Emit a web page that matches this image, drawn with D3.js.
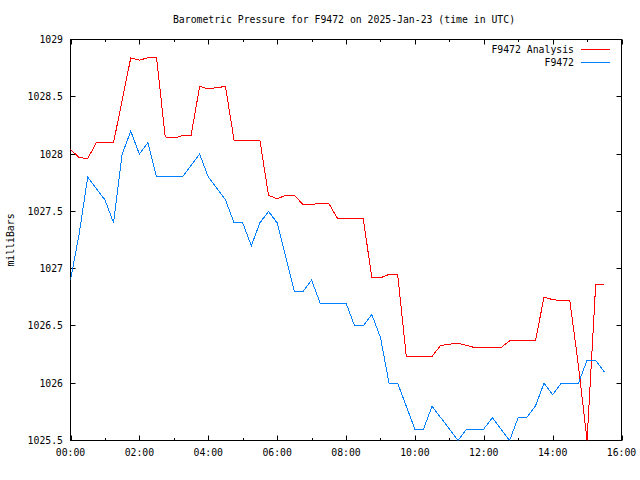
<!DOCTYPE html>
<html><head><meta charset="utf-8">
<script src="https://cdn.jsdelivr.net/npm/d3@7/dist/d3.min.js"></script>
<style>
body{margin:0;background:#fff;}
svg{display:block;}
text{font-family:"DejaVu Sans Mono","Liberation Mono",monospace;font-size:9.8px;fill:#000;}
</style></head>
<body>
<svg id="c" width="640" height="480"></svg>
<script>
const times = ["00:00","00:15","00:30","00:45","01:00","01:15","01:30","01:45","02:00","02:15","02:30","02:45",
"03:00","03:15","03:30","03:45","04:00","04:15","04:30","04:45","05:00","05:15","05:30","05:45",
"06:00","06:15","06:30","06:45","07:00","07:15","07:30","07:45","08:00","08:15","08:30","08:45",
"09:00","09:15","09:30","09:45","10:00","10:15","10:30","10:45","11:00","11:15","11:30","11:45",
"12:00","12:15","12:30","12:45","13:00","13:15","13:30","13:45","14:00","14:15","14:30","14:45",
"15:00","15:15","15:30"];
const analysis = [1028.04,1027.97,1027.96,1028.10,1028.10,1028.10,1028.47,1028.84,1028.82,1028.84,1028.84,1028.15,
1028.14,1028.16,1028.16,1028.59,1028.57,1028.58,1028.59,1028.12,1028.12,1028.12,1028.12,1027.64,
1027.61,1027.64,1027.64,1027.56,1027.56,1027.57,1027.57,1027.44,1027.44,1027.44,1027.44,1026.92,
1026.92,1026.95,1026.95,1026.235,1026.235,1026.235,1026.235,1026.33,1026.34,1026.35,1026.33,1026.31,
1026.31,1026.31,1026.31,1026.37,1026.37,1026.37,1026.37,1026.75,1026.73,1026.72,1026.72,1026.15,
1025.5,1026.86,1026.86];
const observed = [1026.9,1027.3,1027.8,1027.7,1027.6,1027.4,1028.0,1028.2,1028.0,1028.1,1027.8,1027.8,
1027.8,1027.8,1027.9,1028.0,1027.8,1027.7,1027.6,1027.4,1027.4,1027.2,1027.4,1027.5,
1027.4,1027.1,1026.8,1026.8,1026.9,1026.7,1026.7,1026.7,1026.7,1026.5,1026.5,1026.6,
1026.4,1026.0,1026.0,1025.8,1025.6,1025.6,1025.8,1025.7,1025.6,1025.5,1025.6,1025.6,
1025.6,1025.7,1025.6,1025.5,1025.7,1025.7,1025.8,1026.0,1025.9,1026.0,1026.0,1026.0,
1026.2,1026.2,1026.1];
const xTickLabels = ["00:00","02:00","04:00","06:00","08:00","10:00","12:00","14:00","16:00"];
const yTickValues = [1025.5,1026,1026.5,1027,1027.5,1028,1028.5,1029];
const seriesNames = ["F9472 Analysis","F9472"];
const seriesColors = ["#ff0000","#0080ff"];
const titleText = "Barometric Pressure for F9472 on 2025-Jan-23 (time in UTC)";
const yLabel = "milliBars";

const toH = s => { const [h,m] = s.split(":").map(Number); return h + m/60; };
const L = 70.5, R = 621.5, T = 39.5, B = 440.5;
const svg = d3.select("#c");
const x = d3.scaleLinear().domain([0,16]).range([L,R]);
const y = d3.scaleLinear().domain([1025.5,1029]).range([B,T]);

svg.append("defs").append("clipPath").attr("id","clip")
  .append("rect").attr("x",L).attr("y",T).attr("width",R-L).attr("height",B-T);

// ticks
const majorX = xTickLabels.map(toH);
const minorX = d3.range(1,16,2);
const tk = svg.append("g").attr("stroke","#000").attr("stroke-width",1);
majorX.forEach(h=>{
  const px = Math.round(x(h))+0.5;
  tk.append("line").attr("x1",px).attr("x2",px).attr("y1",B).attr("y2",B-5);
  tk.append("line").attr("x1",px).attr("x2",px).attr("y1",T).attr("y2",T+5);
});
minorX.forEach(h=>{
  const px = Math.round(x(h))+0.5;
  tk.append("line").attr("x1",px).attr("x2",px).attr("y1",B).attr("y2",B-2.5);
  tk.append("line").attr("x1",px).attr("x2",px).attr("y1",T).attr("y2",T+2.5);
});
yTickValues.forEach(v=>{
  const py = Math.round(y(v)-0.5)+0.5;
  tk.append("line").attr("x1",L).attr("x2",L+5).attr("y1",py).attr("y2",py);
  tk.append("line").attr("x1",R).attr("x2",R-5).attr("y1",py).attr("y2",py);
});

// border
svg.append("rect").attr("x",L).attr("y",T).attr("width",R-L).attr("height",B-T)
  .attr("fill","none").attr("stroke","#000").attr("stroke-width",1);

// tick labels
xTickLabels.forEach(s=>{
  svg.append("text").attr("x",x(toH(s))).attr("y",456).attr("text-anchor","middle").text(s);
});
yTickValues.forEach(v=>{
  svg.append("text").attr("x",63).attr("y",y(v)+3.5).attr("text-anchor","end").text(d3.format("")(v));
});

// title & y label
svg.append("text").attr("x",344).attr("y",23).attr("text-anchor","middle").text(titleText);
svg.append("text").attr("transform","translate(14,240) rotate(-90)").attr("text-anchor","middle").text(yLabel);

// lines
const line = d3.line().x(d=>x(d[0])).y(d=>y(d[1]));
const data = [analysis, observed].map(arr => times.map((t,i)=>[toH(t), arr[i]]));
data.forEach((d,i)=>{
  svg.append("path").attr("clip-path","url(#clip)").datum(d).attr("d",line)
    .attr("fill","none").attr("stroke",seriesColors[i]).attr("stroke-width",1)
    .attr("shape-rendering","crispEdges");
});

// legend
seriesNames.forEach((n,i)=>{
  const ly = 49.5 + i*13;
  svg.append("text").attr("x",574).attr("y",ly+3.5).attr("text-anchor","end").text(n);
  svg.append("line").attr("x1",581).attr("x2",610).attr("y1",ly).attr("y2",ly)
    .attr("stroke",seriesColors[i]).attr("stroke-width",1);
});
</script>
</body></html>
